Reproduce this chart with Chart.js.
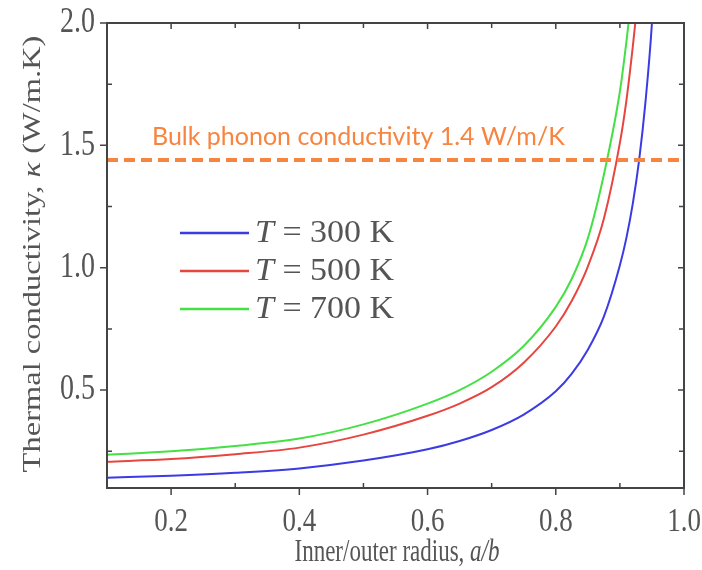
<!DOCTYPE html>
<html lang="en">

<head>
    <meta charset="UTF-8">
    <title>Thermal conductivity vs inner/outer radius</title>
    <script src="https://cdn.jsdelivr.net/npm/chart.js"></script>
    <style>
        body {
            margin: 0;
            background-color: #fff;
        }

        #wrap {
            width: 702px;
            height: 570px;
        }
    </style>
</head>

<body>
    <div id="wrap"><canvas id="kappaChart"></canvas></div>

    <script>
        // a/b values where the curves were read
        const radiusRatio = [0.1, 0.2, 0.3, 0.4, 0.5, 0.6, 0.65, 0.7, 0.75, 0.8, 0.825, 0.85, 0.875, 0.9, 0.91, 0.92, 0.93, 0.94, 0.95, 0.96];
        const kappa300 = [0.142, 0.150, 0.162, 0.180, 0.212, 0.258, 0.292, 0.337, 0.400, 0.495, 0.567, 0.665, 0.800, 1.010, 1.120, 1.260, 1.440, 1.680, 2.000, 2.500];
        const kappa500 = [0.207, 0.218, 0.238, 0.265, 0.318, 0.395, 0.445, 0.512, 0.612, 0.760, 0.865, 1.005, 1.200, 1.510, 1.680, 1.900, 2.150, null, null, null];
        const kappa700 = [0.236, 0.250, 0.272, 0.302, 0.360, 0.445, 0.500, 0.575, 0.680, 0.840, 0.955, 1.120, 1.380, 1.720, 1.920, 2.150, null, null, null, null];
        const seriesLabels = ['300 K', '500 K', '700 K'];
        const bulkKappa = 1.44;
        const bulkLabel = 'Bulk phonon conductivity 1.4 W/m/K';
        const xTicks = [0.2, 0.4, 0.6, 0.8, 1.0];
        const xMinorTicks = [0.3, 0.5, 0.7, 0.9];
        const yTicks = [0.5, 1.0, 1.5, 2.0];
        const yMinorTicks = [0.25, 0.75, 1.25, 1.75];

        const colors = ['#3b3be4', '#e6463f', '#44e044'];
        const serif = '"Liberation Serif", "DejaVu Serif", serif';
        const grey = '#555';
        const stretch = 1.25; // the source figure is taller than it is wide

        function toPoints(ys) {
            return ys.map((y, i) => ({ x: radiusRatio[i], y: y }));
        }

        // draws a run of [text, italic] parts, vertically stretched
        function drawParts(c, parts, x, y, size, align, sy) {
            let total = 0;
            const widths = parts.map(p => {
                c.font = (p[1] ? 'italic ' : '') + size + 'px ' + serif;
                const w = c.measureText(p[0]).width;
                total += w;
                return w;
            });
            let start = align === 'center' ? -total / 2 : align === 'right' ? -total : 0;
            c.save();
            c.translate(x, y);
            c.scale(1, sy);
            parts.forEach((p, i) => {
                c.font = (p[1] ? 'italic ' : '') + size + 'px ' + serif;
                c.fillText(p[0], start, 0);
                start += widths[i];
            });
            c.restore();
        }

        // frame, ticks, labels, axis titles, legend and the bulk label
        const decorations = {
            id: 'decorations',
            afterDraw(chart) {
                const c = chart.ctx;
                const a = chart.chartArea;
                const xs = chart.scales.x;
                const ys = chart.scales.y;
                c.save();
                c.strokeStyle = '#444';
                c.lineWidth = 2;
                c.strokeRect(a.left, a.top, a.right - a.left, a.bottom - a.top);

                c.lineWidth = 1.5;
                c.beginPath();
                xTicks.forEach(v => {
                    const px = xs.getPixelForValue(v);
                    c.moveTo(px, a.bottom); c.lineTo(px, a.bottom + 7);
                    c.moveTo(px, a.top); c.lineTo(px, a.top + 6);
                });
                xMinorTicks.forEach(v => {
                    const px = xs.getPixelForValue(v);
                    c.moveTo(px, a.bottom); c.lineTo(px, a.bottom - 5);
                    c.moveTo(px, a.top); c.lineTo(px, a.top + 5);
                });
                yTicks.forEach(v => {
                    const py = ys.getPixelForValue(v);
                    c.moveTo(a.left, py); c.lineTo(a.left - 7, py);
                    c.moveTo(a.right, py); c.lineTo(a.right - 6, py);
                });
                yMinorTicks.forEach(v => {
                    const py = ys.getPixelForValue(v);
                    c.moveTo(a.left, py); c.lineTo(a.left + 5, py);
                    c.moveTo(a.right, py); c.lineTo(a.right - 5, py);
                });
                c.stroke();

                c.fillStyle = grey;
                c.textBaseline = 'middle';
                xTicks.forEach(v => {
                    drawParts(c, [[v.toFixed(1), false]], xs.getPixelForValue(v), 522, 27, 'center', stretch);
                });
                yTicks.forEach(v => {
                    drawParts(c, [[v.toFixed(1), false]], 95, ys.getPixelForValue(v), 28, 'right', stretch);
                });

                // x title with italic a/b
                c.textBaseline = 'alphabetic';
                drawParts(c, [['Inner/outer radius, ', false], ['a/b', true]], 397, 561, 23, 'center', 1.4);

                // y title, rotated; the stretch runs along the text
                c.save();
                c.translate(40, 254);
                c.scale(1, 1.3);
                c.rotate(-Math.PI / 2);
                drawParts(c, [['Thermal conductivity, ', false], ['κ', true], [' (W/m.K)', false]], 0, 0, 25, 'center', 1);
                c.restore();

                // legend
                const legendY = [233, 271, 309];
                seriesLabels.forEach((lab, i) => {
                    c.strokeStyle = colors[i];
                    c.lineWidth = 2.5;
                    c.beginPath();
                    c.moveTo(180, legendY[i]);
                    c.lineTo(249, legendY[i]);
                    c.stroke();
                    c.fillStyle = grey;
                    c.textBaseline = 'middle';
                    drawParts(c, [['T', true], [' = ' + lab, false]], 255, legendY[i] + 1, 34, 'left', 0.95);
                });

                // bulk label
                c.fillStyle = '#f7843f';
                c.textBaseline = 'alphabetic';
                c.font = '25px Lato, "Open Sans", sans-serif';
                c.fillText(bulkLabel, 152, 145);
                c.restore();
            }
        };

        new Chart(document.getElementById('kappaChart'), {
            type: 'line',
            data: {
                datasets: [
                    {
                        label: 'bulk',
                        data: [{ x: 0.1, y: bulkKappa }, { x: 1.0, y: bulkKappa }],
                        borderColor: '#f7843f',
                        borderWidth: 4,
                        borderDash: [11, 6],
                        pointRadius: 0,
                        clip: { left: 0, right: 3, top: 3, bottom: 3 }
                    },
                    {
                        label: 'T = ' + seriesLabels[0],
                        data: toPoints(kappa300),
                        borderColor: colors[0],
                        borderWidth: 2,
                        pointRadius: 0,
                        cubicInterpolationMode: 'monotone'
                    },
                    {
                        label: 'T = ' + seriesLabels[1],
                        data: toPoints(kappa500),
                        borderColor: colors[1],
                        borderWidth: 2,
                        pointRadius: 0,
                        cubicInterpolationMode: 'monotone'
                    },
                    {
                        label: 'T = ' + seriesLabels[2],
                        data: toPoints(kappa700),
                        borderColor: colors[2],
                        borderWidth: 2,
                        pointRadius: 0,
                        cubicInterpolationMode: 'monotone'
                    }
                ]
            },
            options: {
                responsive: true,
                maintainAspectRatio: false,
                animation: false,
                layout: { padding: { top: 23, right: 18, left: 107, bottom: 82 } },
                plugins: {
                    legend: { display: false },
                    tooltip: { enabled: false }
                },
                scales: {
                    x: { type: 'linear', min: 0.1, max: 1.0, display: false },
                    y: { min: 0.1, max: 2.0, display: false }
                }
            },
            plugins: [decorations]
        });
    </script>
</body>

</html>
